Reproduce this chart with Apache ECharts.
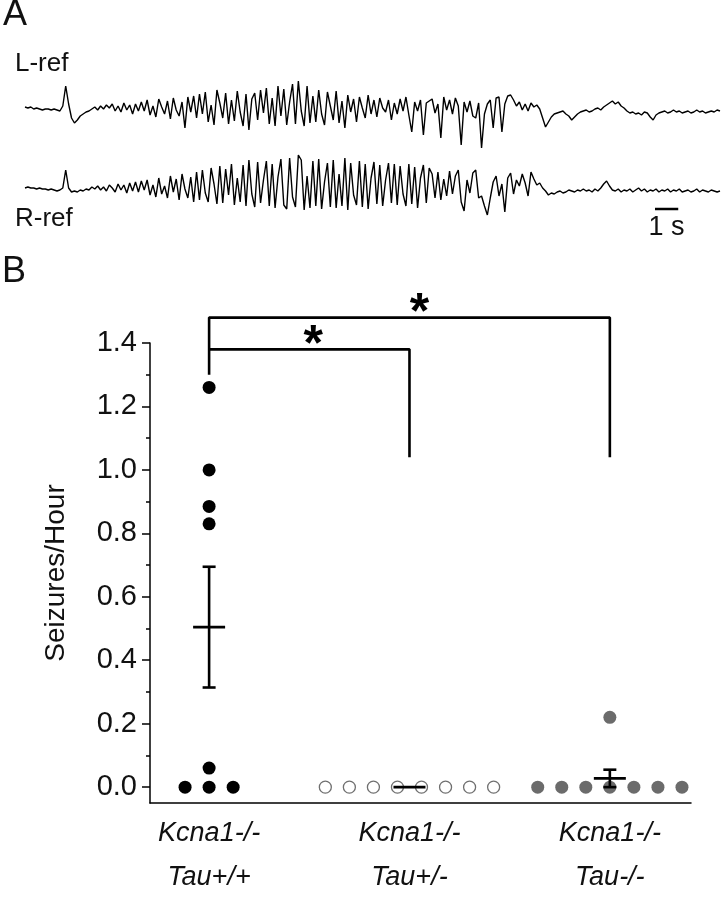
<!DOCTYPE html>
<html>
<head>
<meta charset="utf-8">
<script src="https://cdn.jsdelivr.net/npm/echarts@6/dist/echarts.min.js"></script>
<style>
  html, body { margin: 0; padding: 0; background: #fff; }
  #chart { width: 721px; height: 899px; }
</style>
</head>
<body>
<div id="chart"></div>
<script>
// EEG traces, one sample every 0.125 s (value = deflection, up positive)
const sampleStep = 0.125;
const lRef = [
  1, 0, 1, -1, 0, -1, -2, -1, -1, -2, -1, -2, -3, 2, 22, 4, -10, -15, -12, -8,
  -6, -4, -3, -1, 1, -2, 2, -1, 3, 0, 4, -3, 2, -4, 5, -2, 3, -6, 4, -3,
  6, -3, 8, -7, 2, -9, 9, 1, -6, 7, -11, 10, -2, -8, 6, -20, 11, -4, 12, -10,
  14, -6, 16, -14, 3, -17, 18, 5, -10, 15, -16, 8, -13, 17, -4, -18, 14, -22, 9, 15,
  -12, 18, -5, 20, -16, 10, -18, 22, -8, 19, -17, 6, 24, -16, 27, -3, -18, 22, -15, 12,
  -14, 18, -6, -17, 16, 2, -12, 17, -15, 7, -20, 13, -4, 9, -14, 11, 0, -10, 13, -6,
  8, -9, 10, 0, -4, 8, -12, 5, -6, 9, -3, 11, -7, -24, 6, -3, 8, -27, 5, 7,
  9, -5, 4, -30, 11, -2, 8, -6, 10, 2, -37, 6, -4, 7, -8, -10, 5, -40, -6, 4,
  8, -20, 10, 11, -24, 4, 12, 13, 8, 2, 6, -2, 4, -3, 5, 1, 3, -1, -10, -19,
  -14, -9, -6, -5, -4, -3, -6, -8, -12, -9, -6, -4, -3, -2, -4, -3, -1, 0, -2, 1,
  3, 5, 7, 4, 6, 2, 0, -3, -5, -4, -6, -5, -7, -4, -5, -9, -12, -7, -5, -4,
  -3, -5, -4, -2, -4, -3, -5, -4, -3, -5, -4, -2, -4, -3, -5, -4, -3, -4, -2, -3
];
const rRef = [
  0, 1, 0, 0, -1, 0, -1, -1, -2, -1, -2, -3, -2, 0, 18, 0, -4, -3, -4, -2,
  -3, -1, -2, 1, -1, 2, -2, 1, -3, 3, 0, -4, 4, -2, 3, -5, 5, -3, 6, -4,
  7, -2, 8, -7, 3, -9, 10, -6, 2, -10, 12, -4, 9, -12, 14, -1, -10, 11, -14, 16,
  -12, 18, -5, -14, 20, 4, -16, 22, -15, 19, -7, 24, -17, 10, -14, 23, -18, 28, -6, -19,
  26, -15, 8, 27, -18, 24, -20, 11, 29, -17, -21, 30, -9, -19, 33, 28, -22, 12, -20, 27,
  -18, 29, -21, 6, 25, -19, 28, -20, 14, -18, 30, -22, 25, -7, -17, 27, -19, 24, -21, 10,
  26, -16, 23, -18, 8, 25, -15, 24, -17, 22, -6, -18, 24, -16, 21, -20, 10, 23, -15, 20,
  14, -10, 16, -12, 9, -8, 17, -6, 12, 18, -14, -23, 8, -5, 15, 18, -10, -8, -18, -27,
  -10, 6, 12, -8, 4, -24, 10, 15, -6, 8, 2, 14, 5, -8, 16, 9, 3, 5, 0, -3,
  -7, -5, -6, -4, -3, -5, -4, -2, -3, -4, -2, -3, -1, -3, -2, -4, -1, -3, 0, 4,
  7, 2, -2, -3, -1, -4, -2, -3, -1, -4, -2, 0, -3, -1, -4, -2, -3, -1, -4, -2,
  -3, -1, -4, -2, -3, -1, -4, -3, -2, -4, -3, -1, -4, -2, -3, -4, -2, -3, -4, -3
];

// panel B: seizures per hour for each genotype
const genoLine1 = ["Kcna1-/-", "Kcna1-/-", "Kcna1-/-"];
const genoLine2 = ["Tau+/+", "Tau+/-", "Tau-/-"];
const tauWT = [1.26, 1.0, 0.885, 0.83, 0.06, 0, 0, 0];
const tauHet = [0, 0, 0, 0, 0, 0, 0, 0];
const tauKO = [0, 0, 0, 0, 0, 0, 0, 0.22];
// horizontal spread of the dots inside a group
const jitterWT = [0, 0, 0, 0, 0, -0.12, 0, 0.12];
const jitterHet = [-0.42, -0.3, -0.18, -0.06, 0.06, 0.18, 0.3, 0.42];
const jitterKO = [-0.36, -0.24, -0.12, 0, 0.12, 0.24, 0.36, 0];
const yTicks = [0, 0.2, 0.4, 0.6, 0.8, 1.0, 1.2, 1.4];
const yMinorTicks = [0.1, 0.3, 0.5, 0.7, 0.9, 1.1, 1.3];

const font = "Liberation Sans, Arial, sans-serif";
const chart = echarts.init(document.getElementById("chart"));

function toPoints(values, pos, jitter) {
  return values.map((v, i) => [pos + jitter[i], v]);
}
function meanSem(values) {
  const n = values.length;
  const m = values.reduce((a, b) => a + b, 0) / n;
  const sd = Math.sqrt(values.reduce((a, b) => a + (b - m) * (b - m), 0) / (n - 1));
  return [m, sd / Math.sqrt(n)];
}
const stats = [tauWT, tauHet, tauKO].map((g, k) => [k + 1].concat(meanSem(g)));

const option = {
  animation: false,
  textStyle: { fontFamily: font },
  graphic: [
    { type: "text", x: 3, y: 15, style: { text: "A", font: "36px " + font, fill: "#111", verticalAlign: "middle" } },
    { type: "text", x: 15, y: 64, style: { text: "L-ref", font: "26px " + font, fill: "#111", verticalAlign: "middle" } },
    { type: "text", x: 15, y: 219, style: { text: "R-ref", font: "26px " + font, fill: "#111", verticalAlign: "middle" } },
    { type: "text", x: 2, y: 272, style: { text: "B", font: "36px " + font, fill: "#111", verticalAlign: "middle" } }
  ],
  grid: [
    { left: 25, width: 695, top: 70, height: 90 },
    { left: 25, width: 695, top: 150, height: 90 },
    { left: 150, right: 30, top: 343, bottom: 86 }
  ],
  xAxis: [
    { gridIndex: 0, type: "value", min: 0, max: 29.875, show: false },
    { gridIndex: 1, type: "value", min: 0, max: 29.875, show: false },
    {
      gridIndex: 2, type: "value", min: 0.705, max: 3.405,
      axisLine: { onZero: false, lineStyle: { color: "#000", width: 1.5 } },
      axisTick: { show: false },
      splitLine: { show: false },
      axisLabel: {
        customValues: [1, 2, 3],
        formatter: (v) => {
          const k = Math.round(v) - 1;
          return genoLine1[k] + "\n" + genoLine2[k];
        },
        fontStyle: "italic", fontSize: 27, lineHeight: 44, margin: 8, color: "#111"
      }
    }
  ],
  yAxis: [
    { gridIndex: 0, type: "value", min: -52, max: 38, show: false },
    { gridIndex: 1, type: "value", min: -52, max: 38, show: false },
    {
      gridIndex: 2, type: "value", position: "left", min: -0.05, max: 1.4,
      name: "Seizures/Hour", nameLocation: "middle", nameGap: 80,
      nameTextStyle: { fontSize: 28, color: "#111" },
      axisLine: { show: true, onZero: false, lineStyle: { color: "#000", width: 1.5 } },
      axisTick: { show: true, customValues: yTicks, length: 8, lineStyle: { color: "#000", width: 1.5 } },
      splitLine: { show: false },
      axisLabel: { customValues: yTicks, formatter: (v) => v.toFixed(1), fontSize: 29, margin: 13, color: "#111" }
    },
    {
      gridIndex: 2, type: "value", position: "left", min: -0.05, max: 1.4,
      axisLine: { show: false },
      axisTick: { show: true, customValues: yMinorTicks, length: 4, lineStyle: { color: "#000", width: 1.5 } },
      splitLine: { show: false },
      axisLabel: { show: false }
    }
  ],
  series: [
    {
      type: "line", xAxisIndex: 0, yAxisIndex: 0, showSymbol: false,
      data: lRef.map((v, i) => [i * sampleStep, v]),
      lineStyle: { color: "#000", width: 1.4 }
    },
    {
      type: "line", xAxisIndex: 1, yAxisIndex: 1, showSymbol: false,
      data: rRef.map((v, i) => [i * sampleStep, v]),
      lineStyle: { color: "#000", width: 1.4 }
    },
    // 1 s scale bar
    {
      type: "line", xAxisIndex: 1, yAxisIndex: 1, showSymbol: false, clip: false,
      data: [[27.08, -21], [28.08, -21]],
      lineStyle: { color: "#000", width: 2.5 }
    },
    {
      type: "scatter", xAxisIndex: 1, yAxisIndex: 1, symbolSize: 0, clip: false,
      data: [[27.58, -21]],
      itemStyle: { color: "#000", opacity: 1 },
      label: { show: true, position: "bottom", distance: 5, formatter: "1 s", fontSize: 27, color: "#111", textBorderWidth: 0 }
    },
    {
      type: "scatter", xAxisIndex: 2, yAxisIndex: 2, symbolSize: 13,
      data: toPoints(tauWT, 1, jitterWT),
      itemStyle: { color: "#000", opacity: 1 }
    },
    {
      type: "scatter", xAxisIndex: 2, yAxisIndex: 2, symbolSize: 12,
      data: toPoints(tauHet, 2, jitterHet),
      itemStyle: { color: "#fff", borderColor: "#6f6f6f", borderWidth: 1.3, opacity: 1 }
    },
    {
      type: "scatter", xAxisIndex: 2, yAxisIndex: 2, symbolSize: 13,
      data: toPoints(tauKO, 3, jitterKO),
      itemStyle: { color: "#6b6b6b", opacity: 1 }
    },
    // mean +/- SEM
    {
      type: "custom", xAxisIndex: 2, yAxisIndex: 2, z: 5,
      data: stats,
      renderItem: (params, api) => {
        const x = api.value(0), m = api.value(1), s = api.value(2);
        const c = api.coord([x, m]);
        const top = api.coord([x, m + s]);
        const bot = api.coord([x, m - s]);
        const style = { stroke: "#000", lineWidth: 2.6 };
        const children = [
          { type: "line", shape: { x1: c[0] - 16, y1: c[1], x2: c[0] + 16, y2: c[1] }, style }
        ];
        if (s > 0) {
          children.push(
            { type: "line", shape: { x1: c[0], y1: top[1], x2: c[0], y2: bot[1] }, style },
            { type: "line", shape: { x1: c[0] - 6.5, y1: top[1], x2: c[0] + 6.5, y2: top[1] }, style },
            { type: "line", shape: { x1: c[0] - 6.5, y1: bot[1], x2: c[0] + 6.5, y2: bot[1] }, style }
          );
        }
        return { type: "group", children };
      }
    },
    // significance brackets
    {
      type: "line", xAxisIndex: 2, yAxisIndex: 2, showSymbol: false, clip: false,
      data: [[1, 1.30], [1, 1.48], [3, 1.48], [3, 1.04]],
      lineStyle: { color: "#000", width: 2.6 }
    },
    {
      type: "line", xAxisIndex: 2, yAxisIndex: 2, showSymbol: false, clip: false,
      data: [[1, 1.38], [2, 1.38], [2, 1.04]],
      lineStyle: { color: "#000", width: 2.6 }
    },
    {
      type: "scatter", xAxisIndex: 2, yAxisIndex: 2, symbolSize: 0, clip: false,
      data: [[2.05, 1.48], [1.52, 1.38]],
      itemStyle: { color: "#000", opacity: 1 },
      label: { show: true, position: "inside", offset: [0, -3], formatter: "*", fontSize: 50, fontWeight: "bold", color: "#000", textBorderWidth: 0 }
    }
  ]
};
chart.setOption(option);
</script>
</body>
</html>
